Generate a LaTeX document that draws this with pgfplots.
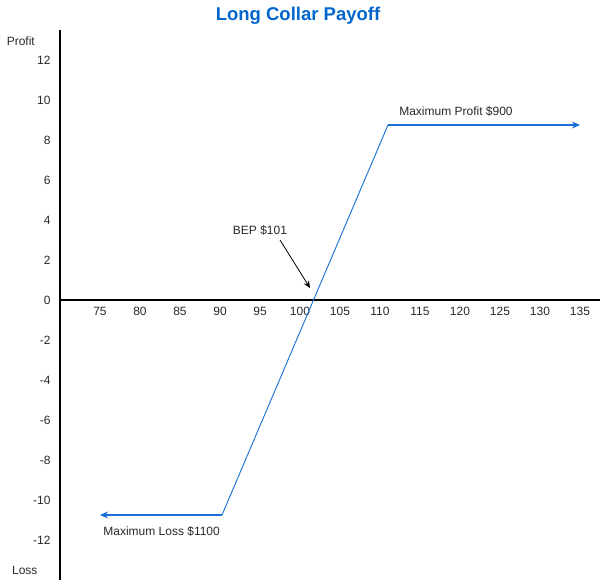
\documentclass[border=0pt]{standalone}
\usepackage{pgfplots}
\pgfplotsset{compat=1.18}
\usepackage{fontspec}
\setmainfont{Liberation Sans}
\usetikzlibrary{arrows.meta}
\definecolor{ttl}{RGB}{0,102,204}
\definecolor{pay}{RGB}{22,110,214}
\definecolor{txt}{RGB}{40,40,40}
\begin{document}
\begin{tikzpicture}
\begin{axis}[
  scale only axis, width=540pt, height=550pt,
  xmin=70, xmax=137.5, ymin=-14, ymax=13.5,
  axis x line=middle, axis y line=left,
  axis line style={-, line width=1.6pt, black},
  xtick={75,80,...,135}, ytick={-12,-10,...,12},
  major tick length=0pt,
  clip=false,
  /pgf/number format/assume math mode=true,
  ticklabel style={font=\fontsize{12}{14}\selectfont, text=txt},
  xticklabel style={anchor=north, yshift=-4pt},
  yticklabel style={anchor=east, xshift=-6pt},
]
\addplot[pay, line width=1.6pt, {Stealth[length=8pt,width=7pt]}-] coordinates {(75,-10.75) (90.25,-10.75)};
\addplot[pay, line width=0.9pt] coordinates {(90.25,-10.75) (111,8.75)};
\addplot[pay, line width=1.6pt, -{Stealth[length=8pt,width=7pt]}] coordinates {(111,8.75) (135,8.75)};
\draw[black, line width=0.8pt, -{Stealth[length=7pt,width=6pt]}] (axis cs:97.5,3.0) -- (axis cs:101.25,0.6);
\node[font=\fontsize{12}{14}\selectfont, text=txt] at (axis cs:95,3.5) {BEP \$101};
\node[font=\fontsize{12}{14}\selectfont, text=txt] at (axis cs:119.5,9.45) {Maximum Profit \$900};
\node[font=\fontsize{12}{14}\selectfont, text=txt] at (axis cs:82.7,-11.55) {Maximum Loss \$1100};
\node[font=\fontsize{12}{14}\selectfont, text=txt] at (axis cs:65.1,12.95) {Profit};
\node[font=\fontsize{12}{14}\selectfont, text=txt] at (axis cs:65.6,-13.5) {Loss};
\node[font=\fontsize{18.5}{22}\selectfont\bfseries, text=ttl] at (axis cs:99.75,14.2) {Long Collar Payoff};
\end{axis}
\path[use as bounding box] (current axis.south west) ++(-60pt,-2pt) rectangle ([shift={(2pt,30pt)}]current axis.north east);
\end{tikzpicture}
\end{document}
